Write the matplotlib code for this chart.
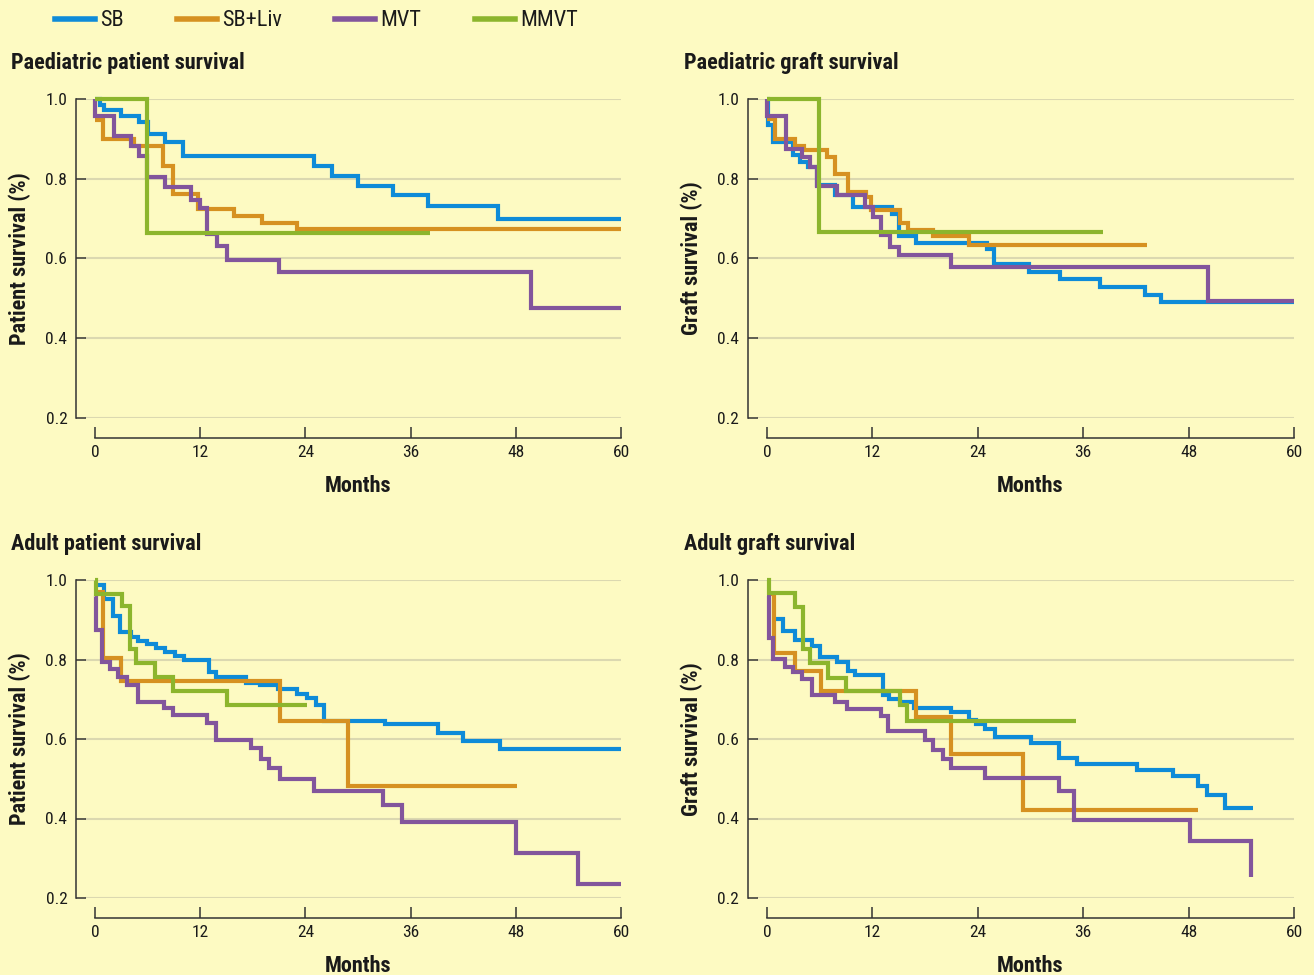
import matplotlib
matplotlib.use('Agg')
import matplotlib.pyplot as plt
from matplotlib import font_manager
from matplotlib.lines import Line2D

# pick a narrow sans if there is one
names = {f.name for f in font_manager.fontManager.ttflist}
fam = 'DejaVu Sans'
for cand in ['Liberation Sans Narrow', 'Roboto Condensed', 'Open Sans Condensed', 'Noto Sans']:
    if cand in names:
        fam = cand
        break
plt.rcParams['font.family'] = [fam, 'DejaVu Sans']

BG = '#fdfac2'
GRID = '#dbd8b0'
INK = '#1a1a1a'
colors = {'SB': '#0e8bd8', 'SB+Liv': '#d69121', 'MVT': '#82559c', 'MMVT': '#8cb52d'}
groups = ['SB', 'SB+Liv', 'MVT', 'MMVT']

# ---- paediatric patient survival
pp_sb_t = [0, 0.6, 1.0, 3.0, 5.0, 6.0, 8.0, 10.0, 25.0, 27.0, 30.0, 34.0, 38.0, 46.0, 60]
pp_sb_v = [1.0, 0.985, 0.973, 0.958, 0.943, 0.912, 0.893, 0.856, 0.833, 0.808, 0.783, 0.758, 0.731, 0.700, 0.700]
pp_liv_t = [0, 0.9, 4.5, 7.8, 8.9, 11.7, 15.9, 19.0, 23.0, 60]
pp_liv_v = [0.948, 0.899, 0.881, 0.832, 0.763, 0.724, 0.706, 0.689, 0.674, 0.674]
pp_mvt_t = [0, 0.05, 2.2, 4.1, 5.0, 5.9, 8.0, 11.0, 12.0, 12.8, 13.9, 15.0, 21.0, 49.7, 60]
pp_mvt_v = [1.0, 0.958, 0.908, 0.882, 0.857, 0.804, 0.780, 0.746, 0.726, 0.661, 0.632, 0.596, 0.567, 0.475, 0.475]
pp_mmvt_t = [0, 5.9, 38.2]
pp_mmvt_v = [1.0, 0.663, 0.663]

# ---- paediatric graft survival
pg_sb_t = [0, 0.1, 0.72, 3.0, 3.76, 4.7, 5.66, 7.75, 9.83, 14.2, 15.0, 17.0, 25.1, 25.9, 29.8, 33.4, 37.9, 43.0, 44.9, 60]
pg_sb_v = [1.0, 0.935, 0.892, 0.86, 0.842, 0.829, 0.785, 0.758, 0.729, 0.712, 0.657, 0.64, 0.625, 0.586, 0.567, 0.548, 0.529, 0.508, 0.492, 0.492]
pg_liv_t = [0, 0.91, 3.2, 4.25, 6.8, 7.75, 9.26, 11.3, 11.9, 15.1, 16.1, 18.9, 23.0, 43.3]
pg_liv_v = [0.95, 0.9, 0.883, 0.873, 0.854, 0.812, 0.768, 0.754, 0.721, 0.688, 0.671, 0.656, 0.633, 0.633]
pg_mvt_t = [0, 0.05, 2.13, 3.95, 4.9, 5.66, 7.94, 11.16, 12.1, 13.0, 14.0, 15.0, 20.9, 50.2, 60]
pg_mvt_v = [1.0, 0.958, 0.875, 0.854, 0.829, 0.783, 0.76, 0.729, 0.704, 0.658, 0.629, 0.608, 0.579, 0.494, 0.494]
pg_mmvt_t = [0, 5.96, 38.2]
pg_mmvt_v = [1.0, 0.667, 0.667]

# ---- adult patient survival
ap_sb_t = [0, 0.98, 2.0, 2.85, 4.1, 4.92, 5.96, 7.0, 8.03, 9.07, 10.1, 13.0, 13.8, 17.2, 18.8, 20.9,
           23.0, 24.2, 25.2, 26.1, 33.1, 39.1, 42.0, 46.2, 60]
ap_sb_v = [0.988, 0.952, 0.91, 0.868, 0.856, 0.846, 0.838, 0.829, 0.818, 0.808, 0.798, 0.768, 0.757, 0.741,
           0.735, 0.725, 0.713, 0.702, 0.685, 0.646, 0.638, 0.614, 0.596, 0.575, 0.575]
ap_liv_t = [0, 0.87, 3.0, 21.1, 28.9, 48.1]
ap_liv_v = [0.97, 0.804, 0.747, 0.645, 0.481, 0.481]
ap_mvt_t = [0, 0.16, 0.78, 1.73, 2.64, 3.68, 4.93, 7.83, 8.86, 12.8, 13.84, 17.8, 18.9, 19.9, 21.1,
            24.96, 32.9, 35.0, 48.06, 55.1, 60]
ap_mvt_v = [0.96, 0.873, 0.793, 0.775, 0.757, 0.737, 0.693, 0.679, 0.66, 0.641, 0.597, 0.577, 0.55, 0.527,
            0.50, 0.468, 0.435, 0.391, 0.3125, 0.235, 0.235]
ap_mmvt_t = [0, 0.16, 3.07, 3.98, 4.72, 6.87, 8.86, 15.1, 24.2]
ap_mmvt_v = [1.0, 0.966, 0.935, 0.827, 0.79, 0.757, 0.72, 0.685, 0.685]

# ---- adult graft survival
ag_sb_t = [1.07, 1.86, 3.19, 5.09, 6.04, 8.0, 9.26, 10.0, 13.25, 13.9, 15.1, 16.7, 21.0, 23.0, 23.8,
           24.8, 26.0, 30.1, 33.2, 35.3, 42.1, 46.2, 49.1, 50.1, 52.2, 55.3]
ag_sb_v = [0.902, 0.871, 0.85, 0.833, 0.806, 0.793, 0.771, 0.762, 0.71, 0.70, 0.692, 0.679, 0.668, 0.6475,
           0.6375, 0.624, 0.604, 0.589, 0.552, 0.5375, 0.5225, 0.506, 0.481, 0.46, 0.427, 0.427]
ag_liv_t = [0, 0.8, 3.2, 6.1, 17.0, 20.9, 29.1, 49.1]
ag_liv_v = [0.964, 0.817, 0.771, 0.721, 0.656, 0.5625, 0.4225, 0.4225]
ag_mvt_t = [0, 0.27, 0.72, 2.05, 3.0, 3.95, 5.09, 7.74, 9.07, 12.95, 13.8, 18.0, 18.9, 20.0, 20.9,
            24.8, 33.2, 35.0, 48.2, 55.1]
ag_mvt_v = [0.96, 0.854, 0.802, 0.782, 0.768, 0.75, 0.711, 0.692, 0.675, 0.658, 0.621, 0.598, 0.573, 0.549,
            0.527, 0.502, 0.468, 0.395, 0.343, 0.254]
ag_mmvt_t = [0, 0.2, 3.2, 4.14, 4.9, 7.0, 9.0, 15.1, 15.9, 35.2]
ag_mmvt_v = [1.0, 0.967, 0.932, 0.827, 0.79, 0.754, 0.721, 0.685, 0.646, 0.646]

panels = [
    ('Paediatric patient survival', 'Patient survival (%)',
     [(pp_sb_t, pp_sb_v), (pp_liv_t, pp_liv_v), (pp_mvt_t, pp_mvt_v), (pp_mmvt_t, pp_mmvt_v)]),
    ('Paediatric graft survival', 'Graft survival (%)',
     [(pg_sb_t, pg_sb_v), (pg_liv_t, pg_liv_v), (pg_mvt_t, pg_mvt_v), (pg_mmvt_t, pg_mmvt_v)]),
    ('Adult patient survival', 'Patient survival (%)',
     [(ap_sb_t, ap_sb_v), (ap_liv_t, ap_liv_v), (ap_mvt_t, ap_mvt_v), (ap_mmvt_t, ap_mmvt_v)]),
    ('Adult graft survival', 'Graft survival (%)',
     [(ag_sb_t, ag_sb_v), (ag_liv_t, ag_liv_v), (ag_mvt_t, ag_mvt_v), (ag_mmvt_t, ag_mmvt_v)]),
]

W, H = 1314, 975
fig = plt.figure(figsize=(W / 100, H / 100), dpi=100, facecolor=BG)

# axes boxes in pixels: left, top(1.0), right(60), bottom(0.2)
boxes = [(85.4, 99, 621, 418), (757.3, 99, 1294, 418),
         (85.4, 580, 621, 898), (757.3, 580, 1294, 898)]
title_pos = [(11, 63), (684, 63), (11, 544), (684, 544)]
ylab_x = [20, 692, 20, 692]

for (title, ylab, series), (l, t, r, b), (tx, ty), yx in zip(panels, boxes, title_pos, ylab_x):
    ax = fig.add_axes([l / W, 1 - b / H, (r - l) / W, (b - t) / H])
    ax.set_facecolor(BG)
    ax.set_xlim(-1.1, 60)
    ax.set_ylim(0.2, 1.0)
    ax.set_yticks([0.2, 0.4, 0.6, 0.8, 1.0])
    ax.set_yticklabels(['0.2', '0.4', '0.6', '0.8', '1.0'])
    ax.set_xticks([0, 12, 24, 36, 48, 60])
    ax.yaxis.grid(True, color=GRID, lw=1.5, zorder=0)
    ax.set_axisbelow(True)
    for s in ['top', 'right']:
        ax.spines[s].set_visible(False)
    ax.spines['left'].set_position(('outward', 7))
    ax.spines['left'].set_bounds(0.2, 1.0)
    ax.spines['bottom'].set_position(('outward', 14.5))
    ax.spines['bottom'].set_bounds(0, 60)
    for s in ['left', 'bottom']:
        ax.spines[s].set_color('#333333')
        ax.spines[s].set_linewidth(1.1)
    ax.tick_params(axis='y', direction='in', length=7.5, width=1.1, color='#333333',
                   labelsize=12.5, labelcolor=INK, pad=6)
    ax.tick_params(axis='x', direction='in', length=8, width=1.1, color='#333333',
                   labelsize=12.5, labelcolor=INK, pad=5)

    for g, (tt, vv) in zip(groups, series):
        ax.step(tt, vv, where='post', color=colors[g], lw=3, clip_on=False,
                solid_joinstyle='miter', solid_capstyle='butt', zorder=3)

    # centre the axis title under the 0-60 span
    ax.set_xlabel('Months', fontsize=16, fontweight='bold', color=INK)
    ax.xaxis.set_label_coords((30 + 1.1) / 61.1, -0.178)
    fig.text(tx / W, 1 - ty / H, title, fontsize=16, fontweight='bold', color=INK,
             ha='left', va='center')
    fig.text(yx / W, 1 - ((t + b) / 2) / H, ylab, fontsize=16, fontweight='bold', color=INK,
             rotation=90, ha='center', va='center')

handles = [Line2D([], [], color=colors[g], lw=4) for g in groups]
fig.legend(handles, groups, loc='center left', bbox_to_anchor=(55 / W, 1 - 21 / H),
           ncol=4, frameon=False, fontsize=16, handlelength=1.8, handletextpad=0.23,
           columnspacing=2.4, borderpad=0, borderaxespad=0, labelcolor=INK)

fig.savefig('out.png', dpi=100, facecolor=BG)
